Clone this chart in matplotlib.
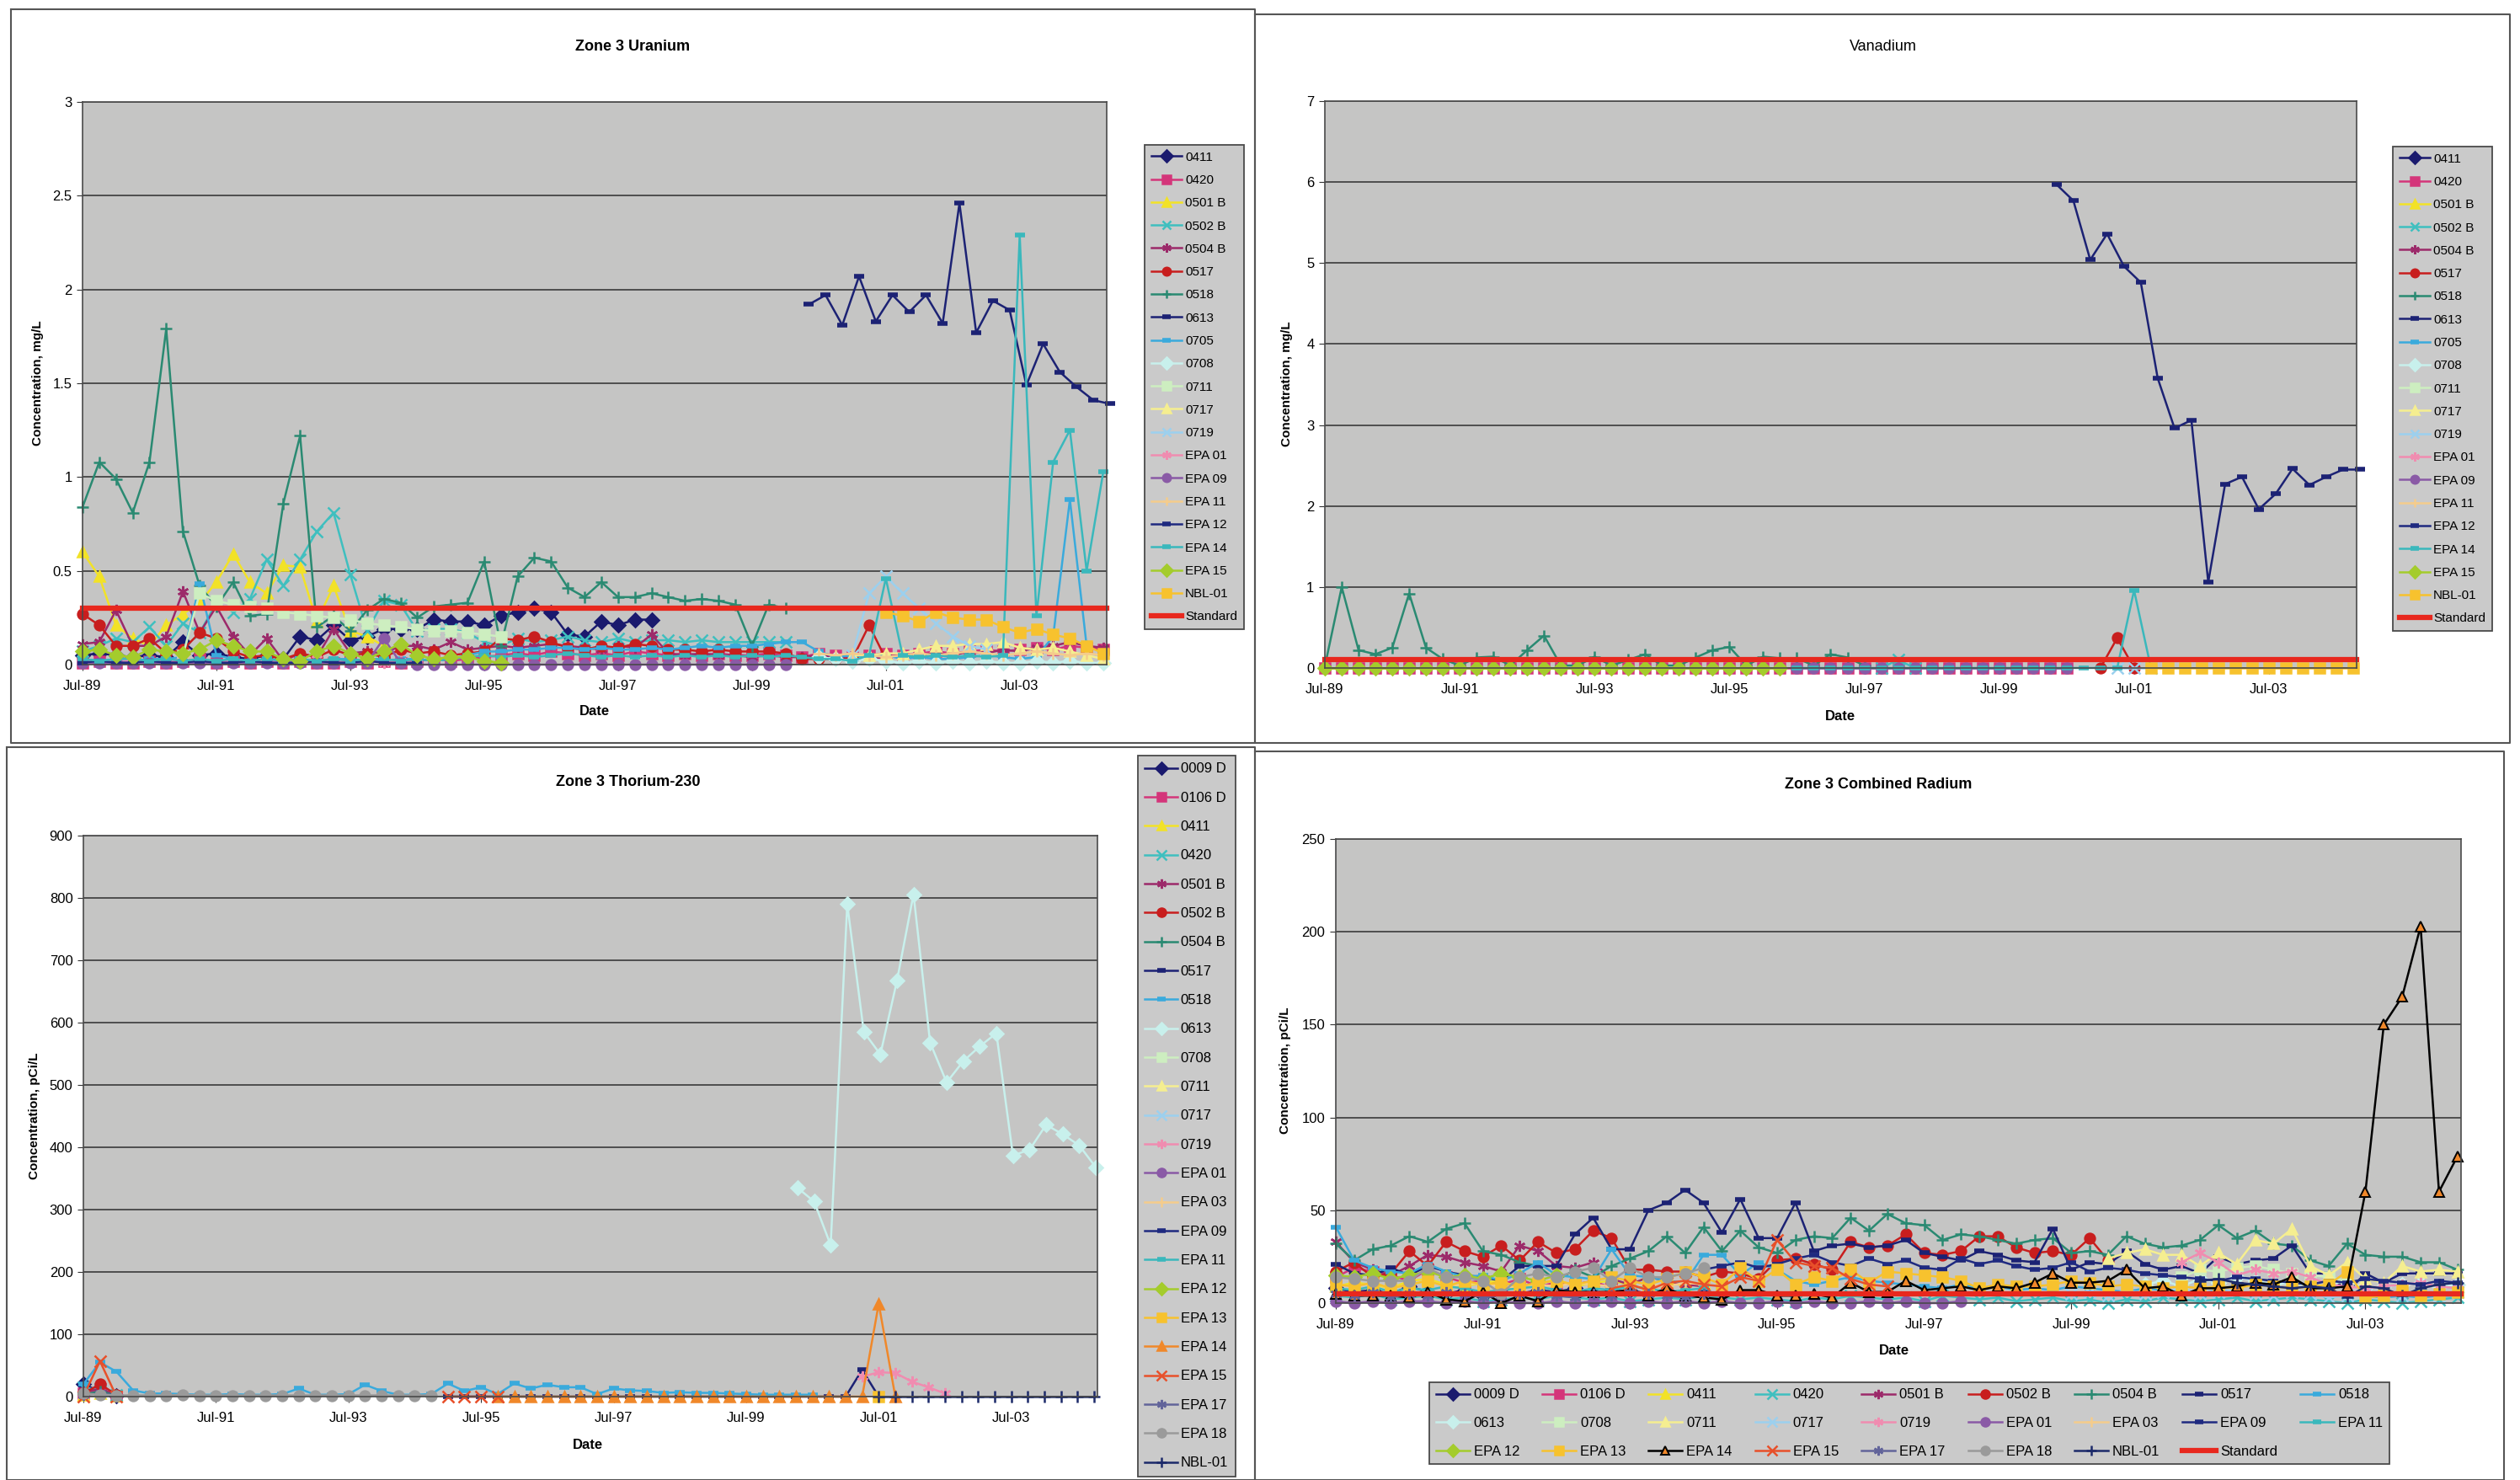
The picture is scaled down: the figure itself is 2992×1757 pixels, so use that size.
import numpy as np
import matplotlib.pyplot as plt
from matplotlib.lines import Line2D
from matplotlib.ticker import FuncFormatter

plt.rcParams['font.family'] = ['Liberation Sans', 'DejaVu Sans']

# ---------------- data (quarter index: 0 = Jul-89) ----------------
tick_q = [0, 8, 16, 24, 32, 40, 48, 56]
tick_labels = ['Jul-89', 'Jul-91', 'Jul-93', 'Jul-95', 'Jul-97', 'Jul-99', 'Jul-01', 'Jul-03']
XMAX = 61.2

# Zone 3 Uranium, mg/L
u_names = ['0411', '0420', '0501 B', '0502 B', '0504 B', '0517', '0518', '0613', '0705', '0708',
           '0711', '0717', '0719', 'EPA 01', 'EPA 09', 'EPA 11', 'EPA 12', 'EPA 14', 'EPA 15', 'NBL-01']
u_start = [0, 0, 0, 0, 0, 0, 0, 43.4, 0, 44, 6, 46, 46, 0, 0, 44, 0, 0, 0, 48]
u_vals = [
    [.05, .06, .05, .04, .05, .04, .12, .05, .06, .04, .03, .05, .03, .15, .13, .21, .13, .15, .19, .19,
     .19, .24, .23, .23, .21, .26, .28, .30, .28, .16, .15, .23, .21, .24, .24],
    [.01, .02, .01, .01, .02, .01, .02, .03, .01, .02, .01, .02, .01, .02, .01, .01, .02, .01, .02, .01,
     .02, .03, .02, .03, .04, .05, .06, .05, .07, .06, .05, .06, .05, .07, .06, .05, .06, .05, .06, .05,
     .05, .06, .05, .04, .06, .05, .04, .05, .06, .05, .06, .07, .06, .07, .08, .07, .08, .09, .08, .10,
     .09, .08],
    [.60, .47, .21, .14, .10, .21, .27, .33, .44, .59, .44, .38, .53, .52, .23, .42, .18, .15, .10],
    [.07, .10, .14, .12, .20, .10, .22, .17, .33, .28, .35, .56, .42, .56, .71, .81, .48, .18, .34, .32,
     .18, .19, .19, .17, .12, .10, .14, .12, .13, .15, .13, .12, .14, .12, .13, .13, .12, .13, .12, .12,
     .12, .12, .12],
    [.11, .12, .29, .10, .10, .15, .39, .17, .31, .15, .05, .14, .02, .06, .04, .19, .06, .07, .06, .10,
     .10, .08, .12, .08, .09, .10, .09, .10, .11, .10, .09, .08, .10, .09, .16, .06, .05, .06, .05, .05,
     .04, .05, .04, .04, .05, .04, .03, .03, .04, .05, .05, .06, .05, .07, .06, .08, .07, .09, .10, .12,
     .10, .09],
    [.27, .21, .10, .10, .14, .06, .08, .17, .14, .07, .04, .05, .03, .06, .04, .08, .05, .06, .04, .08,
     .06, .07, .05, .06, .07, .14, .13, .15, .12, .09, .08, .10, .09, .11, .10, .08, .08, .07, .08, .07,
     .07, .07, .06, .03, .03, .03, .03, .21, .03],
    [.84, 1.08, .99, .81, 1.08, 1.79, .71, .42, .31, .44, .26, .27, .86, 1.22, .20, .26, .18, .29, .35, .33,
     .25, .31, .32, .33, .55, .10, .47, .57, .55, .41, .36, .44, .36, .36, .38, .36, .34, .35, .34, .32,
     .10, .32, .30],
    [1.92, 1.97, 1.81, 2.07, 1.83, 1.97, 1.88, 1.97, 1.82, 2.46, 1.77, 1.94, 1.89, 1.49, 1.71, 1.56, 1.48,
     1.41, 1.39],
    [.03, .02, .03, .02, .03, .03, .04, .43, .05, .03, .02, .03, .02, .03, .02, .03, .03, .02, .02, .03,
     .03, .02, .03, .05, .07, .07, .08, .08, .09, .09, .08, .09, .08, .08, .09, .08, .09, .10, .09, .10,
     .10, .11, .12, .12, .07, .04, .05, .04, .05, .03, .04, .03, .03, .04, .05, .04, .03, .04, .15, .88,
     .10],
    [.04, .03, .02, .03, .02, .01, .02, .01, .02, .01, .02, .01, .01, .02, .01, .02, .01, .01],
    [.05, .38, .34, .32, .31, .30, .28, .27, .26, .25, .24, .22, .21, .20, .19, .18, .18, .17, .16, .15],
    [.05, .05, .06, .06, .08, .10, .10, .11, .11, .12, .09, .08, .09, .07, .05, .03],
    [.05, .38, .47, .38, .30, .22, .15, .10, .08],
    [.02, .01, .03, .02, .01, .02, .03, .02, .01, .02, .01, .02, .01, .02, .03, .02, .01, .02, .01, .02, .01],
    [.01, .01, .01, .01, .01, .01, .01, .01, .01, .01, .01, .01, .01, .01, .01, .01, .01, .01, .14, .01,
     .0, .0, .0, .0, .0, .0, .0, .0, .0, .0, .0, .0, .0, .0, .0, .0, .0, .0, .0, .0,
     .0, .0, .0],
    [.06, .05, .06, .05, .04, .05, .06, .05, .06, .07, .06, .05, .06, .07, .06, .05, .06, .05],
    [.01, .02, .01, .01, .02, .01, .01, .02, .01, .01, .02, .01, .01, .01, .02, .01, .01, .02, .01, .01, .01],
    [.03, .02, .03, .03, .02, .03, .02, .03, .02, .03, .02, .03, .02, .03, .02, .03, .02, .03, .03, .02,
     .03, .02, .03, .04, .05, .04, .05, .04, .05, .06, .05, .04, .05, .04, .05, .04, .05, .04, .05, .04,
     .05, .04, .05, .04, .03, .03, .02, .05, .46, .05, .04, .05, .04, .05, .04, .05, 2.29, .26, 1.08, 1.25,
     .50, 1.03],
    [.07, .08, .05, .04, .08, .07, .06, .08, .13, .10, .07, .07, .03, .02, .07, .10, .06, .03, .07, .11,
     .05, .03, .04, .04, .02, .01],
    [.28, .26, .23, .28, .25, .24, .24, .20, .17, .19, .16, .14, .10, .06],
]
u_standard = 0.3

# Vanadium, mg/L
v_names = u_names
v_start = [0, 0, 0, 33, 0, 46, 0, 43.4, 0, 0, 0, 0, 47, 0, 28, 0, 0, 28, 0, 49]
v_vals = [
    [],
    [0, 0, 0, 0, 0, 0, 0, 0, 0, 0, 0, 0, 0, 0, 0, 0, 0, 0, 0, 0, 0, 0, 0, 0, 0, 0, 0, 0, 0, 0,
     0, 0, 0, 0, 0, 0, 0, 0, 0, 0, 0, 0, 0, 0, 0],
    [],
    [0, .10, 0],
    [],
    [0, .37, 0],
    [.02, 1.0, .22, .17, .25, .92, .25, .11, .03, .13, .14, .03, .22, .40, .03, .03, .14, .03, .10, .17,
     .03, .03, .13, .22, .26, .03, .14, .12, .12, .03, .17, .13, .03],
    [5.97, 5.77, 5.04, 5.36, 4.96, 4.76, 3.58, 2.96, 3.06, 1.06, 2.27, 2.36, 1.96, 2.15, 2.46, 2.26, 2.36,
     2.45, 2.45],
    [], [], [], [],
    [0, 0, 0],
    [],
    [0, 0, 0, 0, 0, 0, 0, 0, 0, 0, 0, 0, 0, 0, 0, 0, 0],
    [], [],
    [0, 0, 0, 0, 0, 0, 0, 0, 0, 0, 0, 0, 0, 0, 0, 0, 0, 0, 0, 0, .96, 0],
    [0, 0, 0, 0, 0, 0, 0, 0, 0, 0, 0, 0, 0, 0, 0, 0, 0, 0, 0, 0, 0, 0, 0, 0, 0, 0, 0, 0],
    [0, 0, 0, 0, 0, 0, 0, 0, 0, 0, 0, 0, 0],
]
v_standard = 0.1

# Zone 3 Thorium-230, pCi/L
t_names = ['0009 D', '0106 D', '0411', '0420', '0501 B', '0502 B', '0504 B', '0517', '0518', '0613',
           '0708', '0711', '0717', '0719', 'EPA 01', 'EPA 03', 'EPA 09', 'EPA 11', 'EPA 12', 'EPA 13',
           'EPA 14', 'EPA 15', 'EPA 17', 'EPA 18', 'NBL-01']
t_start = [0, 0, 0, 0, 0, 0, 0, 22, 0, 43.1, 0, 0, 0, 47, 0, 0, 0, 0, 0, 48, 25, 0, 0, 0, 48]
t_vals = [
    [20, 8, 2], [5, 12, 2], [3, 6, 2], [15, 10, 3], [8, 12, 3], [5, 20, 3], [4, 8, 2],
    [0, 0, 0, 0, 0, 0, 0, 0, 0, 0, 0, 0, 0, 0, 0, 0, 0, 0, 0, 0, 0, 0, 0, 0, 0, 43, 0],
    [20, 55, 40, 10, 5, 5, 4, 3, 3, 4, 3, 3, 4, 13, 3, 3, 4, 19, 9, 3, 3, 4, 21, 9, 15, 4, 21, 13, 19, 15,
     15, 4, 13, 10, 9, 6, 7, 6, 6, 5, 4, 3, 3, 3, 3],
    [335, 313, 243, 790, 585, 549, 667, 806, 568, 504, 538, 562, 583, 387, 396, 436, 421, 403, 368],
    [], [], [],
    [32, 39, 38, 24, 15, 5],
    [], [], [], [], [],
    [0],
    [0, 0, 0, 0, 0, 0, 0, 0, 0, 0, 0, 0, 0, 0, 0, 0, 0, 0, 0, 0, 0, 0, 0, 149, 0],
    [0, 57, 0, None, None, None, None, None, None, None, None, None, None, None, None, None, None, None,
     None, None, None, None, 0, 0, 0, 0],
    [3, 5, 2],
    [5, 3, 2, 2, 2, 2, 3, 2, 2, 2, 2, 2, 2, 2, 2, 2, 2, 2, 2, 2, 2, 2],
    [0, 0, 0, 0, 0, 0, 0, 0, 0, 0, 0, 0, 0, 0],
]

# Zone 3 Combined Radium, pCi/L
r_names = t_names
r_start = [0, 0, 0, 0, 0, 0, 0, 0, 0, 44, 46, 42, 40, 46, 0, 0, 20, 0, 0, 0, 0, 15, 0, 0, 47]
r_vals = [
    [8, 6, 7, 5, 9, 6, 5, 7, 4, 6, 5, 7, 6, 8, 5, 6, 7, 5, 6, 4, 6],
    [14, 19, 17, 15, 12, 18, 14, 11, 12, 10, 13, 9, 11, 10, 12, 8],
    [9, 11, 10, 8, 12, 13, 10, 9, 11, 12, 8, 10, 13, 9, 11, 12, 10, 14, 12, 9, 11],
    [4, 3, 5, 2, 3, 4, 2, 3, 1, 2, 3, 2, 4, 3, 2, 3, 1, 2, 3, 2, 4, 3, 2, 3, 2, 1, 3, 2, 4, 3,
     2, 3, 1, 4, 3, 2, 3, 1, 2, 3, 1, 2, 0, 2, 1, 3, 2, 1, 2, 3, 1, 2, 3, 2, 1, 0, 2, 1, 0, 1, 2, 3],
    [33, 22, 18, 15, 20, 26, 25, 22, 20, 17, 31, 28, 20, 19, 22, 13, 10, 14, 12, 10, 9],
    [17, 22, 14, 16, 28, 20, 33, 28, 25, 31, 23, 33, 27, 29, 39, 35, 18, 18, 17, 17, 14, 17, 16, 13, 23,
     24, 21, 18, 33, 30, 31, 37, 27, 26, 28, 36, 36, 30, 27, 28, 26, 35, 23],
    [32, 23, 29, 31, 36, 33, 40, 43, 28, 26, 22, 20, 12, 18, 14, 20, 24, 28, 36, 27, 41, 28, 39, 30, 27,
     34, 36, 35, 46, 39, 48, 43, 42, 34, 37, 36, 34, 32, 34, 35, 27, 28, 26, 36, 32, 30, 31, 34, 42, 35,
     39, 32, 31, 23, 20, 32, 26, 25, 25, 22, 22, 18],
    [21, 16, 15, 19, 15, 20, 17, 15, 14, 12, 20, 20, 20, 37, 46, 29, 29, 50, 54, 61, 54, 38, 56, 35, 35,
     54, 28, 31, 32, 30, 31, 34, 27, 25, 23, 28, 26, 23, 22, 40, 18, 22, 21, 28, 21, 18, 20, 16, 25, 21,
     23, 24, 31, 16, 16, 6, 16, 11, 16, 16, 16, 16],
    [41, 23, 19, 17, 16, 21, 17, 14, 15, 12, 16, 22, 15, 14, 13, 29, 15, 14, 12, 11, 26, 26, 15, 22, 18,
     12, 10, 12, 14, 12, 11, 10, 9, 8, 10, 8, 9, 7, 8, 7, 9, 8, 7, 6, 8, 7, 6, 5, 7, 6, 5, 6, 5, 4, 5,
     6, 4, 3, 4, 3, 4, 4],
    [10, 12, 9, 13, 11, 14, 12, 10, 11, 9, 10, 12, 8, 9, 10, 11, 9, 10],
    [14, 18, 17, 19, 20, 18, 16, 15, 14, 12],
    [24, 27, 29, 26, 26, 20, 27, 21, 34, 32, 40, 20, 15, 22, 13, 11, 20, 17, 18, 17],
    [5, 6, 4, 7, 5, 6, 8, 5, 6, 7, 5, 4, 6, 5, 3, 4, 5, 6, 4, 5, 4, 6],
    [22, 27, 22, 15, 18, 16, 17, 14, 10, 9, 8, 9, 10, 11, 9, 8],
    [1, 0, 1, 0, 1, 1, 0, 1, 0, 1, 0, 0, 1, 0, 1, 1, 0, 1, 0, 1, 0, 1, 0, 0, 1, 0, 1, 0, 0, 1,
     0, 1, 0, 0, 1],
    [10, 9, 11, 8, 10, 12, 9, 10, 11, 9, 8, 10, 9, 11, 10, 9, 8, 10, 9, 11, 10],
    [18, 20, 22, 19, 21, 24, 26, 22, 20, 24, 21, 23, 19, 18, 24, 21, 23, 20, 18, 19, 22, 17, 19, 18, 16,
     15, 14, 13, 12, 14, 13, 12, 11, 10, 12, 11, 13, 12, 11, 10, 12, 11],
    [8, 7, 9, 6, 8, 7, 9, 8, 6, 7, 8, 9, 7, 6, 8, 7, 9, 8, 6, 7, 8],
    [15, 14, 16, 13, 15, 17, 14, 15, 13, 16, 14, 12, 15],
    [10, 9, 11, 8, 10, 12, 9, 12, 10, 11, 9, 11, 12, 10, 12, 14, 12, 10, 13, 17, 14, 10, 19, 12, 18,
     10, 14, 12, 18, 11, 17, 16, 15, 14, 12, 8, 10, 9, 9, 10, 12, 11, 9, 10, 9, 8, 9, 8, 9, 8,
     10, 9, 8, 9, 10, 17, 3, 4, 7, 4, 5, 6],
    [5, 4, 4, 4, 3, 6, 2, 1, 6, 0, 4, 1, 7, 6, 6, 6, 7, 4, 8, 4, 3, 2, 7, 7, 4, 4, 5, 3, 11, 6,
     6, 12, 7, 8, 9, 7, 9, 8, 11, 16, 11, 11, 12, 18, 8, 9, 4, 8, 8, 9, 11, 10, 14, 8, 8, 9, 60, 150,
     165, 203, 60, 79],
    [8, 10, 7, 11, 12, 10, 9, 14, 12, 34, 22, 20, 19, 13, 10, 9],
    [5, 4, 6, 3, 5, 4, 6, 5, 3, 4, 5, 6, 4, 3, 5, 4, 6, 5, 4, 3, 5],
    [14, 13, 12, 12, 12, 19, 14, 14, 12, 5, 14, 16, 14, 17, 19, 12, 19, 14, 14, 16, 19],
    [12, 13, 11, 10, 9, 8, 9, 8, 3, 9, 8, 4, 8, 10, 11],
]
r_standard = 5

# ---------------- styles (Excel default series order, as printed) ----------------
AST = (6, 2, 0)
styles = [
    ('#1a1a6e', 'D'), ('#d4357a', 's'), ('#f2e227', '^'), ('#3fbfbf', 'x'), ('#9c2a6a', AST),
    ('#c81e1e', 'o'), ('#2a8a72', '+'), ('#1c2274', '_'), ('#3aaadc', '_'), ('#c8f0ec', 'D'),
    ('#cdeec0', 's'), ('#f5ee90', '^'), ('#9cd0ee', 'x'), ('#f08cb0', AST), ('#8a5aa6', 'o'),
    ('#f4cc8c', '+'), ('#1f2a80', '_'), ('#3ab8bc', '_'), ('#a4cc2c', 'D'), ('#f7c22e', 's'),
    ('#f0882a', '^'), ('#e8502a', 'x'), ('#62649a', AST), ('#9a9a9a', 'o'), ('#1c2a6a', '+'),
]
STD_COLOR = '#e8281e'

W, H = 2992, 1757
fig = plt.figure(figsize=(W / 100, H / 100), dpi=100)


def rect(l, t, r, b):
    return [l / W, 1 - b / H, (r - l) / W, (b - t) / H]


def draw(ax, names, starts, vals, ms=8.5, special=None):
    for i, (nm, st, v) in enumerate(zip(names, starts, vals)):
        c, m = styles[i]
        y = np.array(v, dtype=float)
        x = st + np.arange(len(y))
        kw = dict(color=c, marker=m, ms=ms, lw=1.8, mfc=c, mec=c, mew=1.8, clip_on=False, label=nm)
        if m == '_':
            kw.update(ms=ms, mew=4)
        if m in ('x', '+') or m == AST:
            kw.update(ms=ms + 1)
        if special and nm in special:
            kw.update(special[nm])
        ax.plot(x, y, **kw)


def add_std(ax, value):
    ax.plot([0, XMAX], [value, value], color=STD_COLOR, lw=4.5, clip_on=False, label='Standard')


def style_ax(ax, ymax, ystep):
    ax.set_facecolor('#c5c5c4')
    ax.set_xlim(0, XMAX)
    ax.set_ylim(0, ymax)
    ax.set_yticks(np.arange(0, ymax + ystep / 2, ystep))
    ax.yaxis.set_major_formatter(FuncFormatter(lambda v, p: f'{v:g}'))
    ax.set_xticks(tick_q)
    ax.set_xticklabels(tick_labels)
    ax.grid(axis='y', color='#2e2e2e', lw=1.1)
    ax.set_axisbelow(True)
    ax.tick_params(axis='x', labelsize=12, direction='out', length=5, pad=8, color='#333333')
    ax.tick_params(axis='y', labelsize=12, direction='out', length=5, pad=4, color='#333333')
    for s in ax.spines.values():
        s.set_color('#4a4a4a')
        s.set_linewidth(1.2)


def style_leg(leg):
    fr = leg.get_frame()
    fr.set_facecolor('#cacaca')
    fr.set_edgecolor('#4a4a4a')
    fr.set_linewidth(1.3)


def ftext(x, y, s, **kw):
    fig.text(x / W, 1 - y / H, s, ha='center', va='center', **kw)


# ---------------- panel frames ----------------
for (l, t, r, b) in [(13, 11, 1490, 882), (1490, 17, 2980, 882), (8, 887, 1490, 1757), (1490, 892, 2973, 1757)]:
    fig.add_artist(Line2D([l / W, r / W, r / W, l / W, l / W],
                          [1 - t / H, 1 - t / H, 1 - b / H, 1 - b / H, 1 - t / H],
                          color='#555555', lw=1.5))

# ---------------- Zone 3 Uranium ----------------
ax1 = fig.add_axes(rect(98, 121, 1314, 789))
style_ax(ax1, 3, 0.5)
draw(ax1, u_names, u_start, u_vals)
add_std(ax1, u_standard)
leg = ax1.legend(loc='upper left', bbox_to_anchor=(1359 / W, 1 - 172 / H), bbox_transform=fig.transFigure,
                 fontsize=11, labelspacing=0.87, handlelength=2.4, handletextpad=0.25, borderpad=0.5,
                 borderaxespad=0, fancybox=False, framealpha=1, markerscale=0.8)
style_leg(leg)
ftext(751, 55, 'Zone 3 Uranium', fontsize=13, fontweight='bold')
ftext(45, 455, 'Concentration, mg/L', fontsize=11, fontweight='bold', rotation=90)
ftext(706, 845, 'Date', fontsize=12, fontweight='bold')

# ---------------- Vanadium ----------------
ax2 = fig.add_axes(rect(1573, 120, 2798, 793))
style_ax(ax2, 7, 1)
draw(ax2, v_names, v_start, v_vals)
add_std(ax2, v_standard)
leg = ax2.legend(loc='upper left', bbox_to_anchor=(2841 / W, 1 - 174 / H), bbox_transform=fig.transFigure,
                 fontsize=11, labelspacing=0.87, handlelength=2.4, handletextpad=0.25, borderpad=0.5,
                 borderaxespad=0, fancybox=False, framealpha=1, markerscale=0.8)
style_leg(leg)
ftext(2236, 56, 'Vanadium', fontsize=13)
ftext(1528, 456, 'Concentration, mg/L', fontsize=11, fontweight='bold', rotation=90)
ftext(2185, 850, 'Date', fontsize=12, fontweight='bold')

# ---------------- Zone 3 Thorium-230 ----------------
ax3 = fig.add_axes(rect(99, 992, 1303, 1658))
style_ax(ax3, 900, 100)
draw(ax3, t_names, t_start, t_vals)
leg = ax3.legend(loc='upper left', bbox_to_anchor=(1351 / W, 1 - 897 / H), bbox_transform=fig.transFigure,
                 fontsize=12, labelspacing=1.16, handlelength=2.3, handletextpad=0.25, borderpad=0.5,
                 borderaxespad=0, fancybox=False, framealpha=1, markerscale=0.85)
style_leg(leg)
ftext(746, 928, 'Zone 3 Thorium-230', fontsize=13, fontweight='bold')
ftext(41, 1325, 'Concentration, pCi/L', fontsize=11, fontweight='bold', rotation=90)
ftext(698, 1715, 'Date', fontsize=12, fontweight='bold')

# ---------------- Zone 3 Combined Radium ----------------
ax4 = fig.add_axes(rect(1586, 996, 2922, 1547))
style_ax(ax4, 250, 50)
draw(ax4, r_names, r_start, r_vals,
     special={'EPA 14': dict(color='black', mfc='#f0882a', mec='black', mew=1.4, ms=9)})
add_std(ax4, r_standard)
h, lab = ax4.get_legend_handles_labels()
order = []
for j in range(8):
    order += [j, 9 + j, 18 + j]
order += [8, 17]
leg = ax4.legend([h[k] for k in order], [lab[k] for k in order], ncol=9, mode='expand',
                 loc='center', bbox_to_anchor=(1697 / W, 1 - 1741 / H, (2837 - 1697) / W, (1741 - 1638) / H),
                 bbox_transform=fig.transFigure, fontsize=12, labelspacing=1.12, handlelength=2.4,
                 handletextpad=0.3, columnspacing=0.5, borderpad=0.45, borderaxespad=0,
                 fancybox=False, framealpha=1, markerscale=0.85)
style_leg(leg)
ftext(2230, 932, 'Zone 3 Combined Radium', fontsize=13, fontweight='bold')
ftext(1526, 1271, 'Concentration, pCi/L', fontsize=11, fontweight='bold', rotation=90)
ftext(2249, 1604, 'Date', fontsize=12, fontweight='bold')

fig.savefig('out.png', dpi=100, facecolor='white')
